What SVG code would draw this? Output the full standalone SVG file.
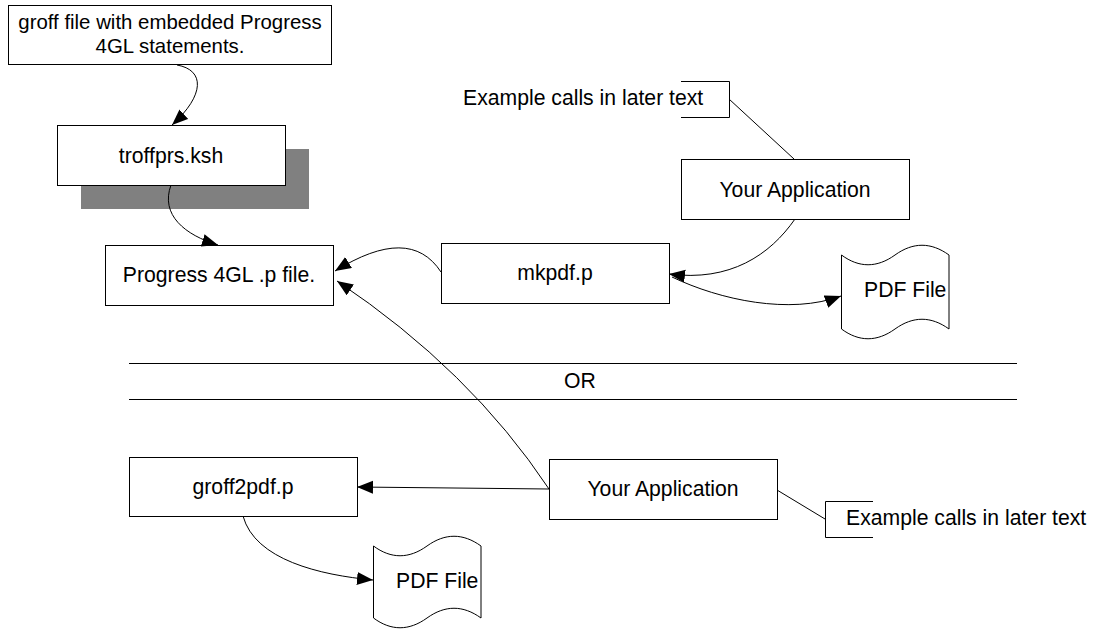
<svg xmlns="http://www.w3.org/2000/svg" width="1099" height="630" viewBox="0 0 1099 630">
<defs>
<style>
.box{fill:#fff;stroke:#000;stroke-width:1}
.t{font-family:"Liberation Sans",Arial,sans-serif;font-size:21.2px;fill:#000}
.s{font-size:20.4px}
.c{text-anchor:middle}
.ln{fill:none;stroke:#000;stroke-width:1}
.ar{fill:none;stroke:#000;stroke-width:1;marker-end:url(#ah)}
</style>
<marker id="ah" markerUnits="userSpaceOnUse" markerWidth="18" markerHeight="14" refX="16" refY="6.5" orient="auto">
<path d="M0,0 L16,6.5 L0,13 Z" fill="#000"/>
</marker>
</defs>
<rect width="1099" height="630" fill="#fff"/>

<g id="groff-file">
<rect class="box" x="8.5" y="5.5" width="323" height="59"/>
<text class="t s c" x="170" y="29">groff file with embedded Progress</text>
<text class="t s c" x="170" y="53">4GL statements.</text>
</g>

<g id="troffprs">
<rect x="81" y="149" width="228" height="60" fill="#808080"/>
<rect class="box" x="57.5" y="125.5" width="228" height="60"/>
<text class="t c" x="171" y="163">troffprs.ksh</text>
</g>

<g id="progress-p">
<rect class="box" x="105.5" y="245.5" width="228" height="60"/>
<text class="t c" x="219" y="282">Progress 4GL .p file.</text>
</g>

<g id="mkpdf">
<rect class="box" x="441.5" y="243.5" width="228" height="60"/>
<text class="t c" x="555" y="280">mkpdf.p</text>
</g>

<g id="your-app-top">
<rect class="box" x="681.5" y="159.5" width="228" height="60"/>
<text class="t c" x="795" y="197">Your Application</text>
</g>

<g id="note-top">
<path class="ln" d="M681,81.5 H729.5 V117.5 H681"/>
<text class="t" x="463" y="105">Example calls in later text</text>
</g>

<g id="pdf-top">
<path class="box" d="M841.5,255 C859,268 877,268 895,255 C913,242 931,242 949,255 L949,329 C931,316 913,316 895,329 C877,342 859,342 841.5,329 Z"/>
<text class="t" x="864" y="297">PDF File</text>
</g>

<g id="separator">
<line class="ln" x1="129" y1="363.5" x2="1017" y2="363.5"/>
<line class="ln" x1="129" y1="399.5" x2="1017" y2="399.5"/>
<text class="t" x="564" y="388">OR</text>
</g>

<g id="groff2pdf">
<rect class="box" x="129.5" y="457.5" width="228" height="59"/>
<text class="t c" x="243" y="494">groff2pdf.p</text>
</g>

<g id="your-app-bottom">
<rect class="box" x="549.5" y="459.5" width="228" height="60"/>
<text class="t c" x="663" y="496">Your Application</text>
</g>

<g id="note-bottom">
<path class="ln" d="M873,501.5 H825.5 V537.5 H873"/>
<text class="t" x="846" y="525">Example calls in later text</text>
</g>

<g id="pdf-bottom">
<path class="box" d="M373.5,546 C391,559 409,559 427,546 C445,533 463,533 481,546 L481,618 C463,605 445,605 427,618 C409,631 391,631 373.5,618 Z"/>
<text class="t" x="396" y="588">PDF File</text>
</g>

<g id="connectors">
<path class="ar" d="M177,65 C205,70 205,95 172,125"/>
<path class="ar" d="M171,185 C160,215 185,235 218,245"/>
<path class="ar" d="M441,272 C420,240 385,240 335,271"/>
<path class="ar" d="M795,219 C770,255 730,282 669,274"/>
<path class="ar" d="M672,277 C720,300 790,315 841,296"/>
<path class="ln" d="M729,99 L794,159"/>
<path class="ar" d="M549,489 Q470,370 337,281"/>
<path class="ar" d="M549,489 L357,487"/>
<path class="ln" d="M777,490 L825,519"/>
<path class="ar" d="M243,516 C255,560 320,575 373,580"/>
</g>
</svg>
